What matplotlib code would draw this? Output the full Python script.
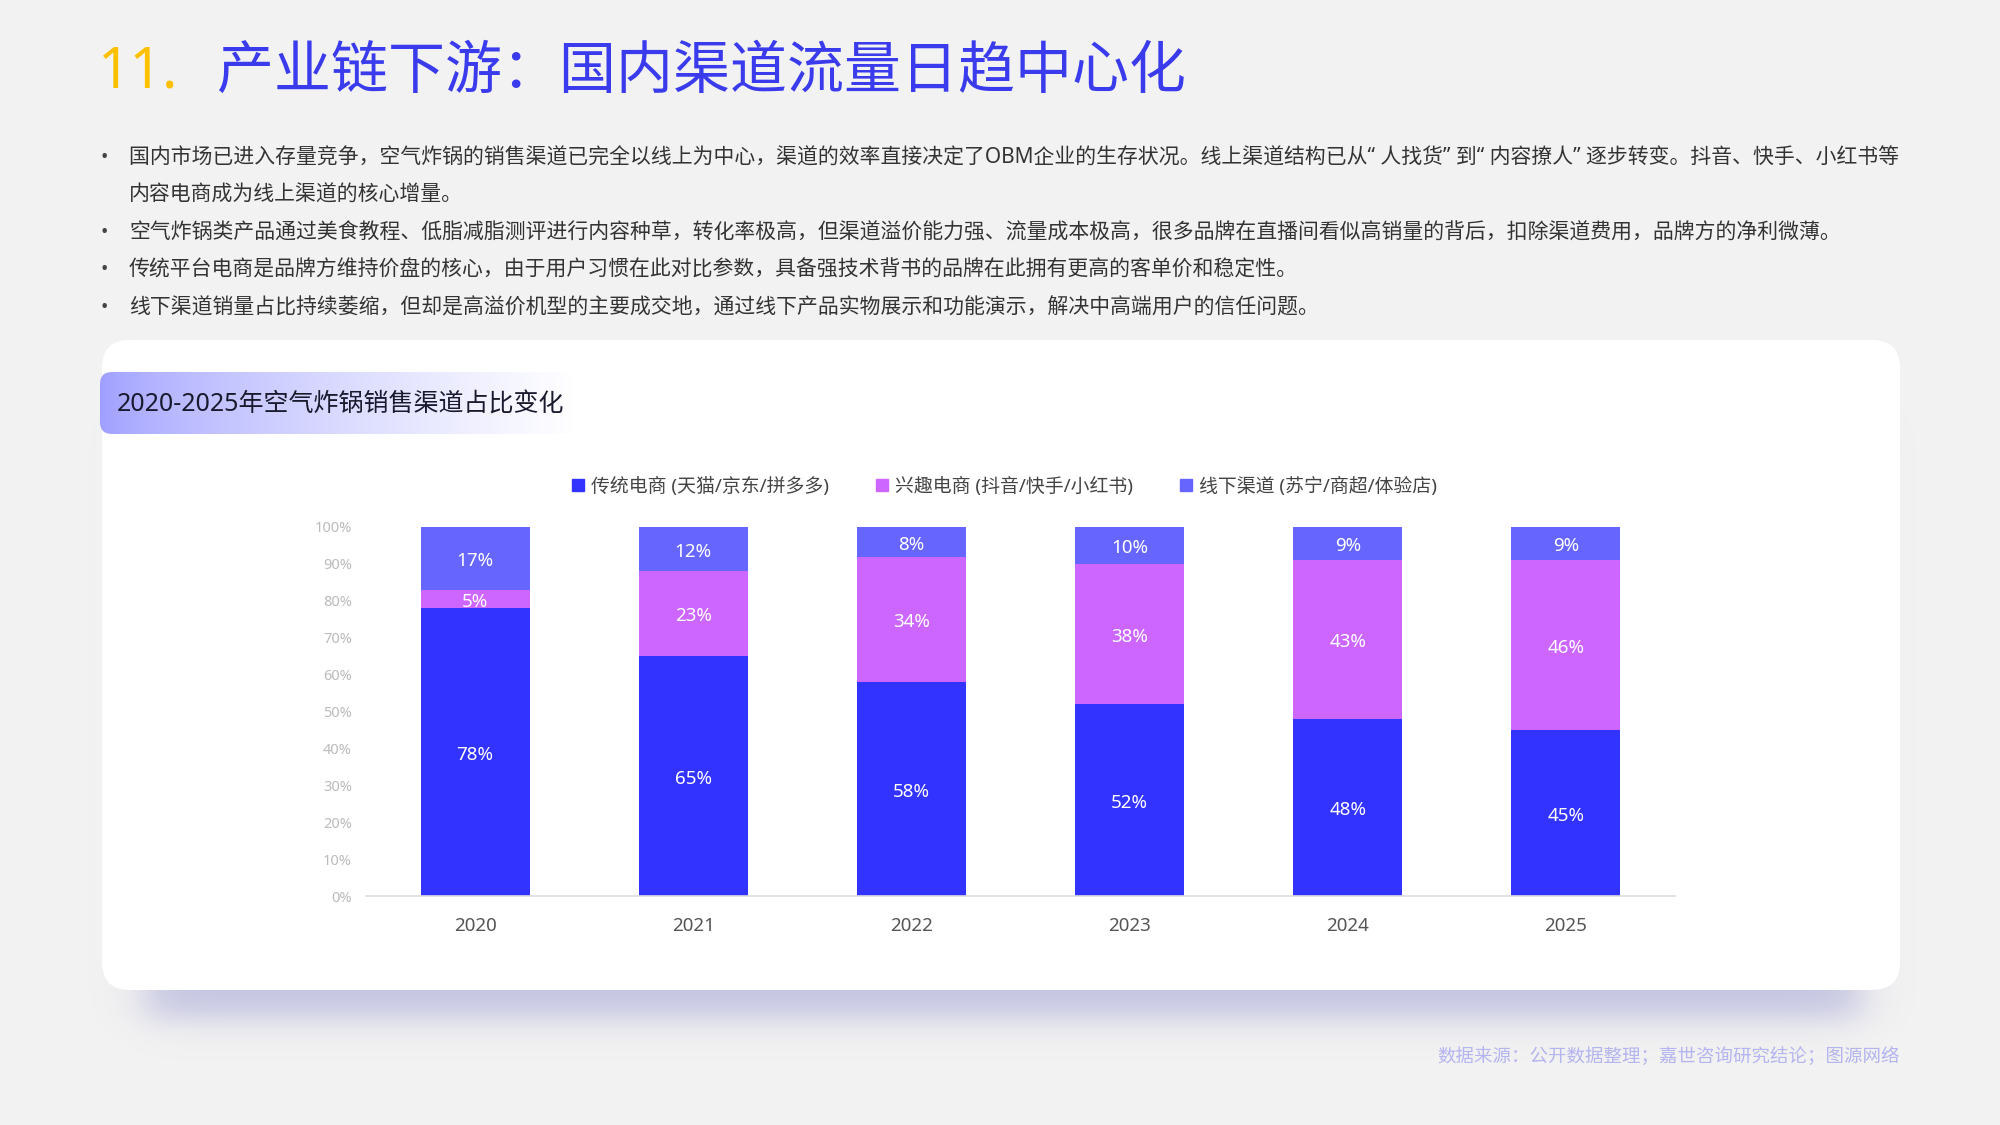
import numpy as np
import matplotlib
matplotlib.use('Agg')
import matplotlib.pyplot as plt
from matplotlib.patches import FancyBboxPatch, Patch

plt.rcParams['font.family'] = ['Noto Sans', 'Noto Sans CJK SC', 'DejaVu Sans']

# data
years = ['2020', '2021', '2022', '2023', '2024', '2025']
trad = np.array([78, 65, 58, 52, 48, 45])       # 传统电商
interest = np.array([5, 23, 34, 38, 43, 46])    # 兴趣电商
offline = np.array([17, 12, 8, 10, 9, 9])       # 线下渠道
series_names = ['传统电商 (天猫/京东/拼多多)', '兴趣电商 (抖音/快手/小红书)', '线下渠道 (苏宁/商超/体验店)']
colors = ['#3333FF', '#CC66FF', '#6666FF']
yticks = list(range(0, 101, 10))

title_num = '11.'
title_text = '产业链下游：国内渠道流量日趋中心化'
chart_title = '2020-2025年空气炸锅销售渠道占比变化'
bullets = [
    ('•', '国内市场已进入存量竞争，空气炸锅的销售渠道已完全以线上为中心，渠道的效率直接决定了OBM企业的生存状况。线上渠道结构已从“ 人找货” 到“ 内容撩人” 逐步转变。抖音、快手、小红书等'),
    ('', '内容电商成为线上渠道的核心增量。'),
    ('•', '空气炸锅类产品通过美食教程、低脂减脂测评进行内容种草，转化率极高，但渠道溢价能力强、流量成本极高，很多品牌在直播间看似高销量的背后，扣除渠道费用，品牌方的净利微薄。'),
    ('•', '传统平台电商是品牌方维持价盘的核心，由于用户习惯在此对比参数，具备强技术背书的品牌在此拥有更高的客单价和稳定性。'),
    ('•', '线下渠道销量占比持续萎缩，但却是高溢价机型的主要成交地，通过线下产品实物展示和功能演示，解决中高端用户的信任问题。'),
]
source = '数据来源：公开数据整理；嘉世咨询研究结论；图源网络'

W, H = 2000, 1125
fig = plt.figure(figsize=(20, 11.25), dpi=100)
fig.patch.set_facecolor('#F2F2F2')

# background layer in pixel coordinates
bg = fig.add_axes([0, 0, 1, 1])
bg.set_zorder(0)
bg.axis('off')

# soft shadow under the card
sx0, sx1, sy0, sy1 = 60, 1940, 340, 1100
xs = np.arange(sx0, sx1)
ys = np.arange(sy0, sy1)
def smooth(v, a, b, s):
    return 1 / (1 + np.exp(-(v - a) / s)) / (1 + np.exp(-(b - v) / s))
alpha = 0.44 * np.outer(smooth(ys, 420, 1018, 9), smooth(xs, 145, 1860, 12))
shadow = np.zeros((len(ys), len(xs), 4))
shadow[..., 0] = 140 / 255
shadow[..., 1] = 140 / 255
shadow[..., 2] = 205 / 255
shadow[..., 3] = alpha
bg.imshow(shadow, extent=(sx0, sx1, sy1, sy0), aspect='auto', zorder=1, interpolation='bilinear')

card = FancyBboxPatch((102, 340), 1798, 650, boxstyle='round,pad=0,rounding_size=28',
                      fc='white', ec='none', zorder=2)
bg.add_patch(card)

# gradient header chip
chip = FancyBboxPatch((100, 372), 475, 62, boxstyle='round,pad=0,rounding_size=12',
                      fc='none', ec='none', zorder=3)
bg.add_patch(chip)
t = np.linspace(0, 1, 400) ** 0.7
grad = np.ones((2, 400, 3))
left = np.array([158, 158, 255]) / 255
for k in range(3):
    grad[:, :, k] = left[k] + (1 - left[k]) * t
im = bg.imshow(grad, extent=(100, 575, 434, 372), aspect='auto', zorder=3, interpolation='bilinear')
im.set_clip_path(chip)
bg.text(117, 405, chart_title, fontsize=18, color='#1A1A2E', va='center', ha='left', zorder=4)

# title
bg.text(98, 73, title_num, fontsize=41, color='#FFC000', va='center', ha='left')
bg.text(217, 73, title_text, fontsize=41, color='#3B3BEE', va='center', ha='left')

# bullets
line_y = [158, 195, 233, 270, 308]
for (mark, txt), yy in zip(bullets, line_y):
    if mark:
        bg.text(100, yy, mark, fontsize=14, color='#444444', va='center', ha='left')
    bg.text(129, yy, txt, fontsize=15, color='#333333', va='center', ha='left')

bg.text(1900, 1056, source, fontsize=13.3, color='#B4B4F0', va='center', ha='right')

bg.set_xlim(0, W)
bg.set_ylim(H, 0)

# chart
ax = fig.add_axes([366 / W, 1 - 896 / H, (1675 - 366) / W, (896 - 527) / H])
ax.set_zorder(2)
ax.patch.set_alpha(0)
x = np.arange(len(years))
bw = 0.5
b1 = ax.bar(x, trad, width=bw, color=colors[0])
b2 = ax.bar(x, interest, width=bw, bottom=trad, color=colors[1])
b3 = ax.bar(x, offline, width=bw, bottom=trad + interest, color=colors[2])
for cont, vals in zip([b1, b2, b3], [trad, interest, offline]):
    ax.bar_label(cont, labels=[f'{v}%' for v in vals], label_type='center',
                 color='white', fontsize=13.5, padding=-2)

ax.set_xlim(-0.5, len(years) - 0.5)
ax.set_ylim(0, 100)
ax.set_xticks(x)
ax.set_xticklabels(years, fontsize=13.5, color='#555555')
ax.set_yticks(yticks)
ax.set_yticklabels([f'{v}%' for v in yticks], fontsize=10.5, color='#BBBBBB')
ax.tick_params(axis='x', length=0, pad=15)
ax.tick_params(axis='y', length=0, pad=10)
for s in ['top', 'right', 'left']:
    ax.spines[s].set_visible(False)
ax.spines['bottom'].set_color('#DDDDDD')
ax.spines['bottom'].set_linewidth(1.2)

handles = [Patch(color=c) for c in colors]
ax.legend(handles, series_names, loc='center', bbox_to_anchor=(0.488, 1.11), ncol=3,
          frameon=False, fontsize=13.6, handlelength=0.6, handleheight=0.6,
          handletextpad=0.4, columnspacing=2.5, labelcolor='#444444')

fig.savefig('out.png', dpi=100, facecolor=fig.get_facecolor())
